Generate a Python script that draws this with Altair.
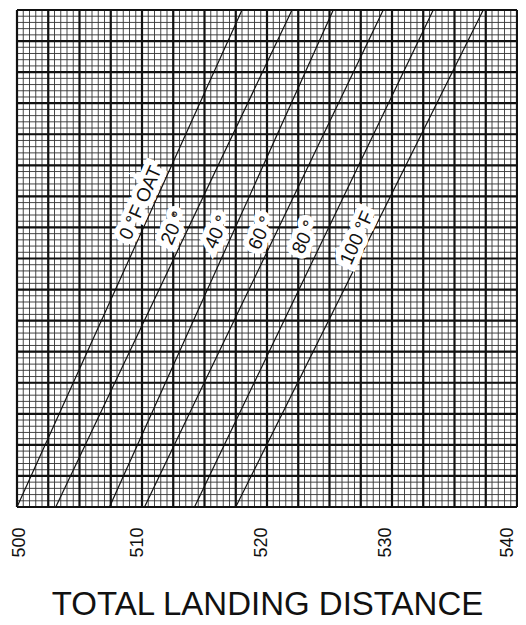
import altair as alt
import pandas as pd
import numpy as np

# ---- data ----
temp_labels = ["0 °F OAT", "20 °", "40 °", "60 °", "80 °", "100 °F"]
line_bottom_x = [500.0, 503.1, 507.4, 510.2, 514.2, 517.5]   # at y = 0
line_top_x = [518.0, 522.0, 525.3, 529.3, 533.3, 537.3]      # at y = 16
label_x = [509.9, 512.5, 516.0, 519.5, 523.0, 527.2]
label_y = [9.79, 8.98, 8.85, 8.82, 8.69, 8.66]
x_ticks = [500, 510, 520, 530, 540]
X_MIN, X_MAX = 500, 540
Y_MIN, Y_MAX = 0, 16

FONT = "Liberation Sans"

# ---- tables ----
lines_df = pd.DataFrame({
    "t": temp_labels * 2,
    "x": line_bottom_x + line_top_x,
    "y": [Y_MIN] * 6 + [Y_MAX] * 6,
})
labels_df = pd.DataFrame({"t": temp_labels, "x": label_x, "y": label_y})

vminor = pd.DataFrame({"x": np.arange(X_MIN, X_MAX + 0.01, 0.5)})
vmajor = pd.DataFrame({"x": np.arange(X_MIN, X_MAX + 0.01, 2.5)})
hminor = pd.DataFrame({"y": np.arange(Y_MIN, Y_MAX + 0.01, 0.2)})
hmajor = pd.DataFrame({"y": np.arange(Y_MIN, Y_MAX + 0.01, 1.0)})

xscale = alt.Scale(domain=[X_MIN, X_MAX], nice=False, zero=False)
yscale = alt.Scale(domain=[Y_MIN, Y_MAX], nice=False, zero=False)
xaxis = alt.Axis(
    values=x_ticks, grid=False, domain=False, ticks=False,
    labelAngle=270, labelFontSize=18, labelFont=FONT, labelColor="#111",
    labelPadding=20, labelFlush=False, labelOverlap=False,
    labelOffset={
        "condition": [
            {"test": "datum.value == 500", "value": 2},
            {"test": "datum.value == 510", "value": -5},
            {"test": "datum.value == 520", "value": -6},
            {"test": "datum.value == 530", "value": -7},
        ],
        "value": -10,
    },
    title="TOTAL LANDING DISTANCE", titleFont=FONT, titleFontSize=33,
    titleFontWeight="normal", titleColor="#111", titlePadding=31,
)


def X(f="x"):
    return alt.X(f"{f}:Q", scale=xscale, axis=xaxis)


def Y(f="y"):
    return alt.Y(f"{f}:Q", scale=yscale, axis=None)


g_vminor = alt.Chart(vminor).mark_rule(color="#333", strokeWidth=0.9).encode(x=X())
g_hminor = alt.Chart(hminor).mark_rule(color="#333", strokeWidth=0.9).encode(y=Y())
g_vmajor = alt.Chart(vmajor).mark_rule(color="#111", strokeWidth=2.2).encode(x=X())
g_hmajor = alt.Chart(hmajor).mark_rule(color="#111", strokeWidth=2.2).encode(y=Y())

temp_lines = alt.Chart(lines_df).mark_line(color="#111", strokeWidth=1.2).encode(
    x=X(), y=Y(), detail="t:N"
)

halo = alt.Chart(labels_df).mark_text(
    font=FONT, fontSize=19, angle=294, align="center", baseline="middle",
    stroke="white", strokeWidth=11, fill="white", strokeJoin="miter",
).encode(x=X(), y=Y(), text="t:N")

label_text = alt.Chart(labels_df).mark_text(
    font=FONT, fontSize=19, angle=294, align="center", baseline="middle",
    color="#111",
).encode(x=X(), y=Y(), text="t:N")

chart = alt.layer(
    g_vminor, g_hminor, g_vmajor, g_hmajor, temp_lines, halo, label_text
).properties(
    width=500, height=497,
    autosize=alt.AutoSizeParams(type="none"),
    padding={"left": 9, "top": 2, "right": 1, "bottom": 117},
    background="white",
).configure_view(stroke=None)

chart.save("out.html", embed_options={"renderer": "svg", "actions": False})
